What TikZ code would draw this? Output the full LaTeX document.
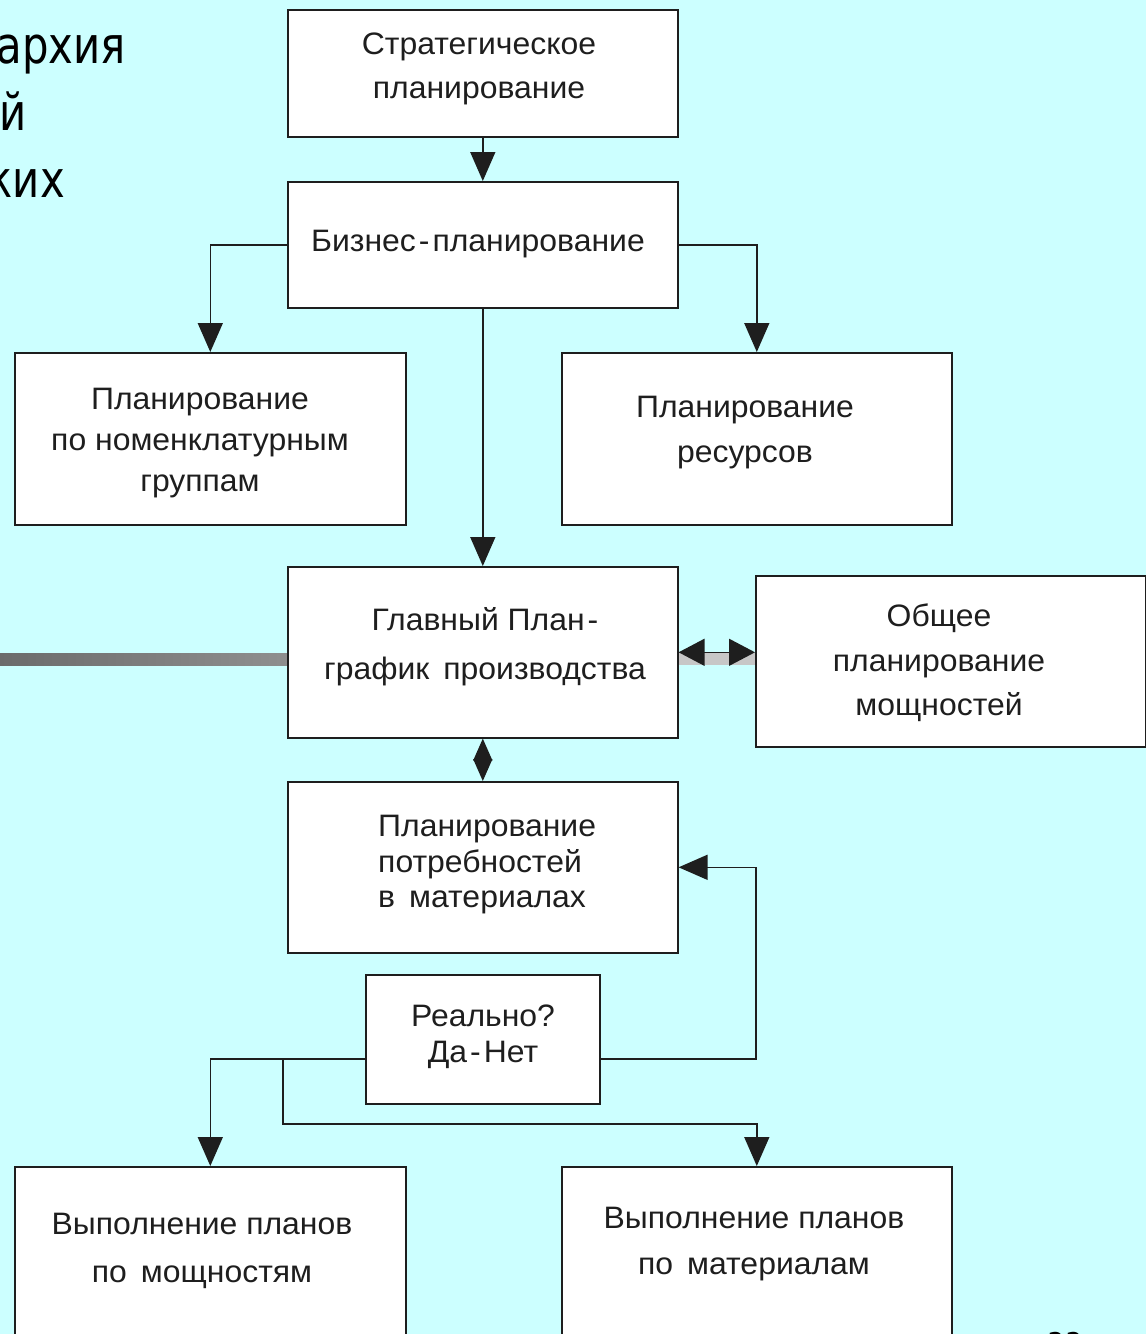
\documentclass[tikz,border=0pt]{standalone}
\usepackage{fontspec}
\setmainfont{Liberation Sans}
\newfontfamily\boxfont[FakeStretch=1.03]{Liberation Sans}
\newfontfamily\bigfont[FakeStretch=0.82]{DejaVu Sans}
\usetikzlibrary{arrows.meta,calc}
\definecolor{bgc}{RGB}{204,255,255}
\definecolor{ink}{RGB}{30,30,30}
\begin{document}
\begin{tikzpicture}[x=1pt,y=-1pt,
  box/.style={draw=ink, line width=1.6pt, fill=white, inner sep=0pt, anchor=north west},
  txt/.style={align=center, text=ink, inner sep=0pt},
  bigtxt/.style={font=\bigfont\fontsize{51}{68}\selectfont, text=black, inner sep=0pt},
  conn/.style={draw=ink, line width=1.5pt},
  arr/.style={conn, -{Triangle[length=29pt,width=25pt]}},
  darr/.style={conn, {Triangle[length=26pt,width=27pt]}-{Triangle[length=26pt,width=27pt]}},
  sarr/.style={conn, {Triangle[length=22pt,width=19pt]}-{Triangle[length=22pt,width=19pt]}}
]
\fill[bgc] (0,0) rectangle (1146,1334);
\useasboundingbox (0,0) rectangle (1146,1334);

% heading fragments (cut off at the left edge)
\node[bigtxt, anchor=base east] (h1) at (126,63) {архия};
\node[bigtxt, anchor=base east] (h2) at (27,130) {ей};
\node[bigtxt, anchor=base east] (h3) at (65,197) {ких};

% grey bar
\shade[left color=black!58, right color=black!44] (0,653) rectangle (287,665);
\fill[black!22] (677,653) rectangle (755,665);

% boxes
\node[box, minimum width=390pt, minimum height=127pt] (strat) at (287,9) {};
\node[box, minimum width=390pt, minimum height=126pt] (biz) at (287,181) {};
\node[box, minimum width=391pt, minimum height=172pt] (nom) at (14,352) {};
\node[box, minimum width=390pt, minimum height=172pt] (res) at (561,352) {};
\node[box, minimum width=390pt, minimum height=171pt] (glav) at (287,566) {};
\node[box, minimum width=390pt, minimum height=171pt] (obsh) at (755,575) {};
\node[box, minimum width=390pt, minimum height=171pt] (potr) at (287,781) {};
\node[box, minimum width=234pt, minimum height=129pt] (real) at (365,974) {};
\node[box, minimum width=391pt, minimum height=190pt] (vyp1) at (14,1166) {};
\node[box, minimum width=390pt, minimum height=190pt] (vyp2) at (561,1166) {};

% texts
\node[txt, font=\boxfont\fontsize{31}{44}\selectfont] (tstrat) at (479,69) {Стратегическое\\планирование};
\node[txt, font=\boxfont\fontsize{31}{44}\selectfont] (tbiz) at (478,244) {Бизнес\kern3pt-\kern3pt планирование};
\node[txt, font=\boxfont\fontsize{31}{41}\selectfont] (tnom) at (200,443) {Планирование\\по номенклатурным\\группам};
\node[txt, font=\boxfont\fontsize{31}{45}\selectfont] (tres) at (745,433) {Планирование\\ресурсов};
\node[txt, font=\boxfont\fontsize{31}{49}\selectfont] (tglav) at (485,647) {Главный План\kern3pt-\\график\, производства};
\node[txt, font=\boxfont\fontsize{31}{44.5}\selectfont] (tobsh) at (939,663) {Общее\\планирование\\мощностей};
\node[txt, align=left, anchor=west, font=\boxfont\fontsize{31}{35.5}\selectfont] (tpotr) at (378,865) {Планирование\\потребностей\\в\, материалах};
\node[txt, font=\boxfont\fontsize{31}{36}\selectfont] (treal) at (483,1037) {Реально?\\Да\kern3pt-\kern3pt Нет};
\node[txt, font=\boxfont\fontsize{31}{48}\selectfont] (tvyp1) at (202,1251) {Выполнение планов\\по\, мощностям};
\node[txt, font=\boxfont\fontsize{31}{46}\selectfont] (tvyp2) at (754,1244) {Выполнение планов\\по\, материалам};

% page number (mostly cut off)
\node[font=\bigfont\fontsize{34}{34}\selectfont, anchor=base, inner sep=0pt] (pg) at (1065,1357) {33};

% connectors
\coordinate (rl) at (365,1059);
\coordinate (rr) at (599,1059);
\coordinate (br) at (283,1059);

\draw[arr] (strat.south) -- (biz.north);
\draw[arr] (biz.west) -| (nom.north);
\draw[arr] (biz.east) -| (res.north);
\draw[arr] (biz.south) -- (glav.north);
\draw[darr] (glav.east) -- (obsh.west |- glav.east);
\draw[sarr] (glav.south) -- (potr.north);
\draw[arr] (rr) -- ++(157,0) |- (potr.east);
\draw[arr] (rl) -| (vyp1.north);
\draw[arr] (br) -- ++(0,65) -| (vyp2.north);
\end{tikzpicture}
\end{document}
